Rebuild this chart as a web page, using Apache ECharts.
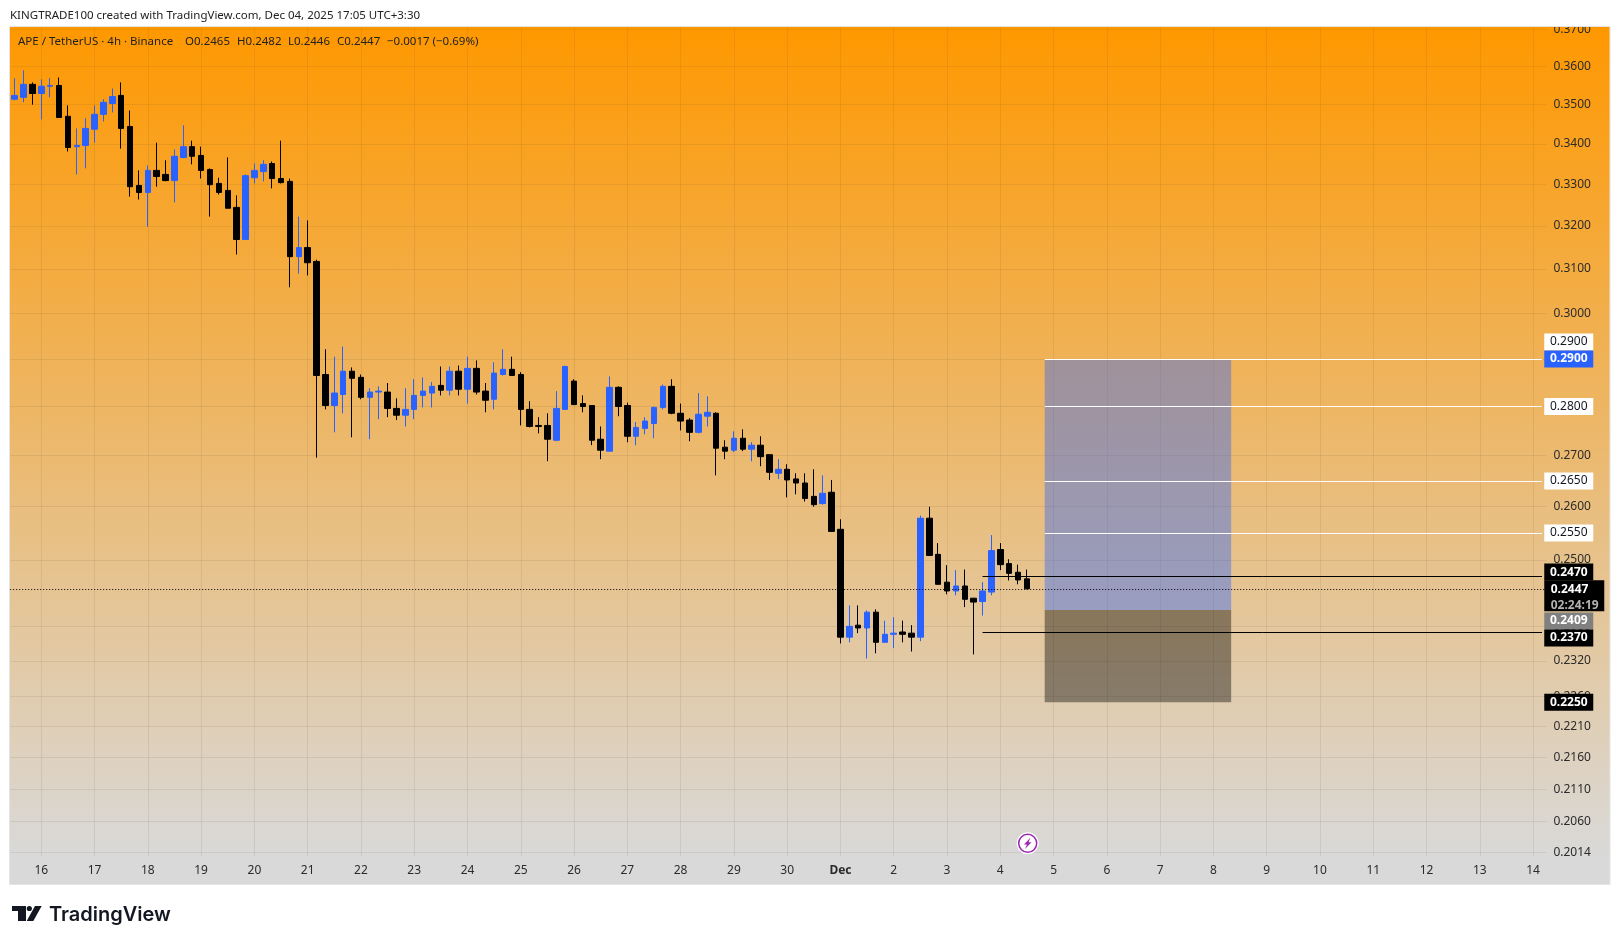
<!DOCTYPE html>
<html>
<head>
<meta charset="utf-8">
<title>APE / TetherUS 4h</title>
<script src="https://cdn.jsdelivr.net/npm/echarts@6/dist/echarts.min.js"></script>
<style>
html,body{margin:0;padding:0;background:#fff;}
#chart{width:1620px;height:944px;}
</style>
</head>
<body>
<div id="chart"></div>
<script>
// 4h candles
var opens = [.3514,.3519,.3553,.3529,.3548,.3550,.3470,.3393,.3396,.3437,.3475,.3503,.3524,.3444,.3297,.3280,.3334,.3324,.3309,.3366,
	.3393,.3371,.3336,.3302,.3285,.3244,.3168,.3316,.3331,.3351,.3314,.3307,.3128,.3149,.3117,.2867,.2802,.2825,.2874,.2861,
	.2819,.2830,.2830,.2796,.2782,.2794,.2823,.2828,.2844,.2834,.2874,.2836,.2880,.2832,.2815,.2867,.2878,.2867,.2794,.2761,
	.2761,.2731,.2794,.2853,.2806,.2802,.2733,.2709,.2840,.2802,.2739,.2755,.2765,.2798,.2842,.2786,.2772,.2747,.2780,.2786,
	.2717,.2711,.2735,.2713,.2721,.2702,.2665,.2673,.2654,.2646,.2620,.2606,.2628,.2557,.2361,.2382,.2377,.2405,.2352,.2366,
	.2370,.2368,.2361,.2578,.2510,.2459,.2443,.2452,.2430,.2424,.2441,.2519,.2493,.2477,.2465];
var highs = [.3569,.3590,.3558,.3566,.3569,.3571,.3498,.3439,.3465,.3498,.3514,.3542,.3558,.3485,.3334,.3346,.3403,.3359,.3386,.3447,
	.3408,.3393,.3339,.3316,.3366,.3273,.3324,.3351,.3359,.3356,.3408,.3314,.3222,.3213,.3121,.2921,.2905,.2927,.2882,.2867,
	.2838,.2842,.2849,.2817,.2838,.2857,.2861,.2851,.2884,.2884,.2886,.2905,.2897,.2849,.2893,.2921,.2905,.2872,.2811,.2778,
	.2786,.2832,.2886,.2857,.2823,.2802,.2759,.2863,.2842,.2808,.2768,.2778,.2800,.2846,.2857,.2806,.2776,.2828,.2821,.2788,
	.2731,.2749,.2753,.2727,.2739,.2702,.2693,.2683,.2665,.2665,.2673,.2661,.2652,.2576,.2417,.2417,.2408,.2410,.2390,.2396,
	.2390,.2382,.2583,.2600,.2531,.2490,.2481,.2482,.2430,.2459,.2546,.2531,.2501,.2491,.2482];
var lows = [.3511,.3506,.3500,.3462,.3519,.3467,.3381,.3324,.3339,.3403,.3457,.3480,.3388,.3270,.3263,.3198,.3294,.3307,.3256,.3364,
	.3349,.3314,.3222,.3275,.3242,.3133,.3168,.3302,.3307,.3290,.3302,.3058,.3089,.3085,.2696,.2794,.2747,.2786,.2737,.2815,
	.2733,.2774,.2778,.2772,.2759,.2774,.2798,.2798,.2823,.2823,.2823,.2806,.2825,.2788,.2794,.2865,.2865,.2761,.2757,.2745,
	.2689,.2729,.2794,.2804,.2788,.2721,.2693,.2709,.2780,.2727,.2721,.2743,.2735,.2794,.2784,.2751,.2729,.2745,.2759,.2661,
	.2693,.2707,.2709,.2689,.2679,.2652,.2654,.2618,.2624,.2610,.2600,.2604,.2553,.2350,.2352,.2368,.2324,.2333,.2352,.2342,
	.2352,.2336,.2354,.2507,.2455,.2437,.2435,.2414,.2331,.2399,.2435,.2481,.2462,.2455,.2446];
var closes = [.3524,.3553,.3529,.3548,.3550,.3467,.3391,.3396,.3439,.3475,.3506,.3521,.3439,.3294,.3280,.3334,.3319,.3309,.3369,.3393,
	.3369,.3334,.3299,.3280,.3242,.3168,.3321,.3334,.3349,.3314,.3304,.3128,.3149,.3114,.2865,.2802,.2828,.2874,.2859,.2819,
	.2830,.2832,.2796,.2782,.2794,.2823,.2832,.2842,.2834,.2874,.2836,.2880,.2830,.2813,.2870,.2878,.2865,.2794,.2759,.2759,
	.2733,.2796,.2884,.2804,.2800,.2731,.2711,.2840,.2800,.2739,.2757,.2770,.2798,.2842,.2786,.2770,.2747,.2784,.2788,.2715,
	.2709,.2735,.2713,.2721,.2698,.2667,.2673,.2652,.2646,.2616,.2604,.2626,.2553,.2361,.2380,.2377,.2405,.2352,.2366,.2368,
	.2366,.2361,.2578,.2508,.2455,.2443,.2452,.2428,.2423,.2443,.2517,.2491,.2475,.2463,.2447];

var dayLabels = ['16','17','18','19','20','21','22','23','24','25','26','27','28','29','30','Dec','2','3','4','5','6','7','8','9','10','11','12','13','14'];
var priceTicks = [.37,.36,.35,.34,.33,.32,.31,.30,.29,.28,.27,.26,.25,.238,.232,.226,.221,.216,.211,.206,.2014];

// long position tool and drawn levels
var entryPrice = .2409, targetPrice = .29, stopPrice = .225;
var whiteLevels = [.29,.28,.265,.255];
var blackLevels = [.247,.237];
var lastPrice = .2447;

var chipLabels = ['0.2900','0.2900','0.2800','0.2650','0.2550','0.2470','0.2447','0.2409','0.2370','0.2250'];
var chipValues = [.29,.29,.28,.265,.255,.247,.2447,.2409,.237,.225];
var chipKinds = ['white','blue','white','white','white','black','last','gray','black','black'];

var BAR_BEFORE_FIRST_DAY = 3, BARS_PER_DAY = 6, CATEGORY_COUNT = 173;
var TOOL_START = 116, TOOL_END = 137, LEVEL_START = 109, AXIS_END = 172;
// the chips are pushed apart so they do not overlap
var chipNudge = [-17,0,0,0,0,-4,7,11,6,0];
var chipFill = {white:'#ffffff',blue:'#2962ff',black:'#000000',gray:'#808080',last:'#000000'};
var FONT = '"Noto Sans", sans-serif';
var GRID_COLOR = 'rgba(90,70,40,0.10)';

var categories = [];
for(var i = 0; i < CATEGORY_COUNT; i++){
	var k = (i - BAR_BEFORE_FIRST_DAY) / BARS_PER_DAY;
	categories.push(k >= 0 && k % 1 === 0 ? dayLabels[k] : '');
}
var candleData = opens.map(function(o,i){ return [o,closes[i],lows[i],highs[i]]; });
function isDayBar(index){
	return categories[index] !== '';
}

var chipData = chipLabels.map(function(text,i){
	var kind = chipKinds[i];
	var wide = kind === 'last';
	var item = {
		name:text,
		coord:[AXIS_END,chipValues[i]],
		symbolSize:wide?[60,31]:[49,17],
		symbolOffset:[wide?32.3:26.8,chipNudge[i]],
		itemStyle:{color:chipFill[kind]},
		label:{color:kind === 'white'?'#131722':'#ffffff',fontWeight:kind === 'white'?'normal':'bold',padding:[2,0,0,0]}
	};
	if(wide){
		item.label.formatter = '{a|'+text+'}\n{b|02:24:19}';
		item.label.padding = [4,0,0,0];
		item.label.rich = {
			a:{width:47,align:'left',color:'#fff',fontFamily:FONT,fontSize:12,fontWeight:'bold',lineHeight:16},
			b:{width:47,align:'left',color:'#b2b2b2',fontFamily:FONT,fontSize:12,lineHeight:16}
		};
	}
	return item;
});

var levelLines = [];
whiteLevels.forEach(function(v){
	levelLines.push([
		{coord:[TOOL_START,v],lineStyle:{color:'#fff',width:1,type:'solid'}},
		{coord:[AXIS_END,v]}
	]);
});
blackLevels.forEach(function(v){
	levelLines.push([
		{coord:[LEVEL_START,v],lineStyle:{color:'#000',width:1,type:'solid'}},
		{coord:[AXIS_END,v]}
	]);
});
levelLines.push({yAxis:lastPrice,lineStyle:{color:'#000',width:1,type:[1,2]}});

var myChart = echarts.init(document.getElementById('chart'),null,{renderer:'canvas'});
myChart.setOption({
	animation:false,
	backgroundColor:'#fff',
	textStyle:{fontFamily:FONT},
	grid:{left:10.2,top:27.6,width:1536.2,height:829,containLabel:false},
	xAxis:{
		type:'category',
		data:categories,
		boundaryGap:true,
		axisLine:{show:false},
		axisTick:{show:false},
		axisLabel:{
			interval:function(index){ return isDayBar(index); },
			margin:8,
			color:'#2b2b2b',
			fontSize:12,
			fontFamily:FONT,
			hideOverlap:false,
			formatter:function(value){ return value === 'Dec' ? '{b|Dec}' : value; },
			rich:{b:{fontWeight:'bold',color:'#2b2b2b',fontSize:12,fontFamily:FONT}}
		},
		splitLine:{
			show:true,
			alignWithLabel:true,
			interval:function(index){ return isDayBar(index); },
			lineStyle:{color:GRID_COLOR,width:1}
		}
	},
	yAxis:{
		type:'log',
		logBase:10,
		position:'right',
		min:.20074,
		max:.37052,
		axisLine:{show:false},
		axisTick:{show:false,customValues:priceTicks},
		axisLabel:{
			customValues:priceTicks,
			margin:7,
			padding:[2,0,0,0],
			color:'#2b2b2b',
			fontSize:12,
			fontFamily:FONT,
			align:'left',
			formatter:function(v){ return v.toFixed(4); }
		},
		splitLine:{show:true,lineStyle:{color:GRID_COLOR,width:1}}
	},
	series:[{
		type:'candlestick',
		data:candleData,
		barWidth:6,
		itemStyle:{color:'#2962ff',color0:'#000000',borderColor:'#2962ff',borderColor0:'#000000',borderWidth:1},
		markArea:{
			silent:true,
			label:{show:false},
			data:[
				[{coord:[TOOL_START,targetPrice],itemStyle:{color:'rgba(41,98,255,0.4)'}},{coord:[TOOL_END,entryPrice]}],
				[{coord:[TOOL_START,entryPrice],itemStyle:{color:'rgba(0,0,0,0.4)'}},{coord:[TOOL_END,stopPrice]}]
			]
		},
		markLine:{
			silent:true,
			symbol:'none',
			precision:4,
			label:{show:false},
			animation:false,
			data:levelLines
		},
		markPoint:{
			silent:true,
			z:20,
			symbol:'rect',
			label:{show:true,position:'inside',formatter:'{b}',fontFamily:FONT,fontSize:12},
			data:chipData
		}
	}],
	graphic:[
		{type:'rect',z:-10,silent:true,shape:{x:10,y:27,width:1600,height:830},
			style:{fill:new echarts.graphic.LinearGradient(0,0,0,1,[{offset:0,color:'#ff9800'},{offset:1,color:'#d9d9d9'}])}},
		{type:'rect',z:-10,silent:true,shape:{x:10,y:857,width:1600,height:27},style:{fill:'#d9d9d9'}},
		// hides the part of the top tick label that sticks out of the pane
		{type:'rect',z:100,silent:true,shape:{x:0,y:0,width:1620,height:27},style:{fill:'#fff'}},
		{type:'rect',z:101,silent:true,shape:{x:9.5,y:26.5,width:1600.5,height:858},style:{fill:'none',stroke:'#e4e4e4',lineWidth:1}},
		{type:'text',z:102,silent:true,x:10,y:15.5,style:{text:'KINGTRADE100 created with TradingView.com, Dec 04, 2025 17:05 UTC+3:30',fill:'#222',font:'11.5px '+FONT,textVerticalAlign:'middle'}},
		{type:'text',z:102,silent:true,x:18,y:42,style:{text:'APE / TetherUS \u00b7 4h \u00b7 Binance',fill:'#222',font:'11.5px '+FONT,textVerticalAlign:'middle'}},
		{type:'text',z:102,silent:true,x:185,y:42,style:{text:'O0.2465',fill:'#222',font:'11.5px '+FONT,textVerticalAlign:'middle'}},
		{type:'text',z:102,silent:true,x:237,y:42,style:{text:'H0.2482',fill:'#222',font:'11.5px '+FONT,textVerticalAlign:'middle'}},
		{type:'text',z:102,silent:true,x:288,y:42,style:{text:'L0.2446',fill:'#222',font:'11.5px '+FONT,textVerticalAlign:'middle'}},
		{type:'text',z:102,silent:true,x:337,y:42,style:{text:'C0.2447',fill:'#222',font:'11.5px '+FONT,textVerticalAlign:'middle'}},
		{type:'text',z:102,silent:true,x:387,y:42,style:{text:'\u22120.0017 (\u22120.69%)',fill:'#222',font:'11.5px '+FONT,textVerticalAlign:'middle'}},
		// lightning badge
		{type:'circle',z:50,silent:true,shape:{cx:1027.7,cy:843.3,r:11},style:{fill:'#fff'}},
		{type:'circle',z:51,silent:true,shape:{cx:1027.7,cy:843.3,r:9},style:{fill:'#fff',stroke:'#9c27b0',lineWidth:1.5}},
		{type:'polygon',z:52,silent:true,shape:{points:[[1030.5,837.5],[1024,844.5],[1027,844.5],[1025,849],[1031.5,842.2],[1028.5,842.2]]},style:{fill:'#9c27b0'}},
		// TradingView logo
		{type:'rect',z:60,silent:true,shape:{x:12,y:906,width:14,height:5},style:{fill:'#131722'}},
		{type:'rect',z:60,silent:true,shape:{x:18,y:906,width:8,height:15},style:{fill:'#131722'}},
		{type:'circle',z:60,silent:true,shape:{cx:29.3,cy:908.5,r:2.6},style:{fill:'#131722'}},
		{type:'polygon',z:60,silent:true,shape:{points:[[35,906],[41.7,906],[33.3,921],[26.7,921]]},style:{fill:'#131722'}},
		{type:'text',z:60,silent:true,x:49,y:915,style:{text:'TradingView',fill:'#131722',font:'600 20px Inter, sans-serif',textVerticalAlign:'middle'}}
	]
});
</script>
</body>
</html>
